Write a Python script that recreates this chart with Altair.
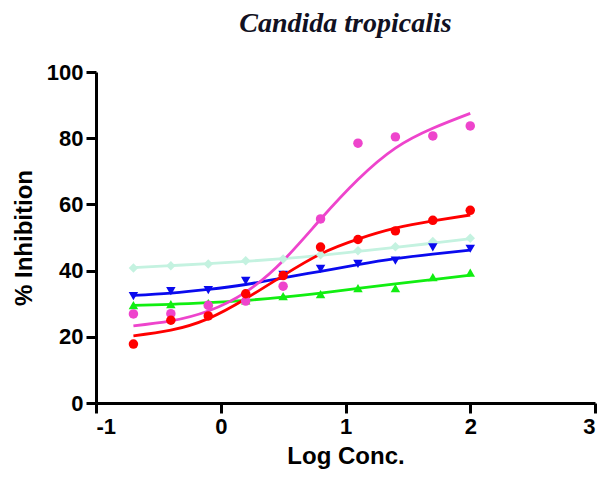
import altair as alt
import pandas as pd

# Log concentration values
log_conc = [-0.7, -0.4, -0.1, 0.2, 0.5, 0.8, 1.1, 1.4, 1.7, 2.0]

# Series names, colours and marker shapes
series = ["cyan", "green", "blue", "magenta", "red"]
colors = ["#c4f2e0", "#11ee11", "#0a0aee", "#ee44cc", "#ff0000"]
shapes = ["diamond", "triangle-up", "triangle-down", "circle", "circle"]

# Observed points (% inhibition)
cyan_pts = [40.8, 41.5, 42.0, 43.0, 43.5, 44.8, 46.0, 47.2, 48.8, 49.8]
green_pts = [29.6, 29.9, 30.2, 31.0, 32.3, 32.9, 34.7, 34.7, 38.0, 39.4]
blue_pts = [32.3, 33.8, 34.1, 36.9, 38.7, 40.5, 42.0, 43.0, 47.0, 46.6]
magenta_pts = [26.9, 27.0, 29.5, 30.8, 35.3, 55.6, 78.5, 80.4, 80.7, 83.7]
red_pts = [17.8, 25.0, 26.3, 33.0, 38.5, 47.1, 49.4, 52.0, 55.2, 58.2]

# Fitted curves read at the same concentrations
cyan_fit = [40.9, 41.5, 42.1, 42.8, 43.6, 44.6, 45.8, 47.0, 48.3, 49.6]
green_fit = [29.5, 29.8, 30.3, 31.0, 32.0, 33.2, 34.6, 36.0, 37.3, 38.6]
blue_fit = [32.5, 33.2, 34.3, 35.8, 37.8, 39.8, 41.8, 43.6, 45.0, 46.2]
magenta_fit = [23.3, 24.8, 27.8, 33.5, 43.0, 55.5, 67.5, 77.0, 83.0, 87.5]
red_fit = [20.3, 22.0, 25.5, 31.5, 38.5, 45.0, 49.5, 52.8, 55.0, 56.8]

pts = {"cyan": cyan_pts, "green": green_pts, "blue": blue_pts,
       "magenta": magenta_pts, "red": red_pts}
fits = {"cyan": cyan_fit, "green": green_fit, "blue": blue_fit,
        "magenta": magenta_fit, "red": red_fit}

rows = []
for s in series:
    for i, xv in enumerate(log_conc):
        rows.append({"series": s, "x": xv, "pt": pts[s][i], "fit": fits[s][i]})
df = pd.DataFrame(rows)

FONT = "Liberation Sans"

x_enc = alt.X("x:Q",
              scale=alt.Scale(domain=[-1, 3], nice=False, zero=False),
              axis=alt.Axis(title="Log Conc.", values=[-1, 0, 1, 2, 3],
                            labelExpr="'' + datum.value"))
color_enc = alt.Color("series:N", scale=alt.Scale(domain=series, range=colors), legend=None)

lines = alt.Chart(df).mark_line(interpolate="natural", strokeWidth=2.8).encode(
    x=x_enc,
    y=alt.Y("fit:Q", scale=alt.Scale(domain=[0, 100], nice=False),
            axis=alt.Axis(title="% Inhibition", values=[0, 20, 40, 60, 80, 100])),
    color=color_enc,
    detail="series:N",
    order="x:Q",
)

points = alt.Chart(df).mark_point(filled=True, size=90, opacity=1).encode(
    x=x_enc,
    y=alt.Y("pt:Q"),
    color=color_enc,
    shape=alt.Shape("series:N", scale=alt.Scale(domain=series, range=shapes), legend=None),
)

chart = alt.layer(lines, points).properties(
    width=499,
    height=331,
    padding={"left": 88, "top": 64, "right": 4, "bottom": 68},
    autosize=alt.AutoSizeParams(type="none"),
    title=alt.TitleParams("Candida tropicalis", font="Liberation Serif", fontStyle="italic",
                          fontWeight="bold", fontSize=28, anchor="middle", color="#111122",
                          offset=23),
).configure_view(stroke=None).configure_axis(
    grid=False,
    domainColor="black", domainWidth=3,
    tickColor="black", tickWidth=3, tickSize=10,
    labelFont=FONT, labelFontSize=22, labelFontWeight="bold", labelColor="black",
    labelPadding=3,
    titleFont=FONT, titleFontSize=24, titleFontWeight="bold", titleColor="black",
).configure_axisX(titlePadding=7).configure_axisY(titlePadding=10)

chart.save("out.html", embed_options={"renderer": "svg", "actions": False})
